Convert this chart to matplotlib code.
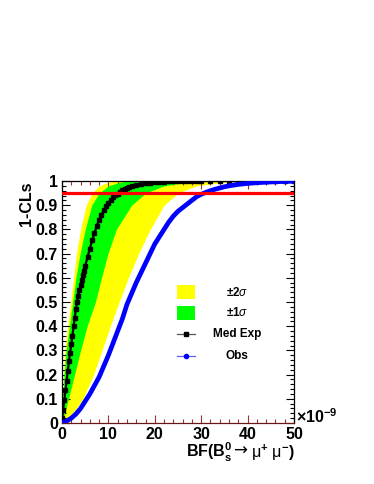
import matplotlib
matplotlib.use("Agg")
import matplotlib.pyplot as plt
from matplotlib.patches import Rectangle
from matplotlib.lines import Line2D
from matplotlib.ticker import MultipleLocator, FixedLocator, FixedFormatter

plt.rcParams['font.family'] = ['Liberation Sans', 'DejaVu Sans']
plt.rcParams['mathtext.fontset'] = 'custom'
plt.rcParams['mathtext.rm'] = 'Liberation Sans:bold'
plt.rcParams['mathtext.bf'] = 'Liberation Sans:bold'
plt.rcParams['mathtext.it'] = 'Liberation Sans:italic'
plt.rcParams['mathtext.sf'] = 'Liberation Sans'

# ---------------- data (BF in units of 1e-9) ----------------
# Median expected 1-CLs
med_x = [0, 0.25, 0.5, 0.75, 1.0, 1.25, 1.5, 1.75, 2.0, 2.25, 2.5, 2.75, 3.0, 3.25,
         3.5, 3.75, 4.0, 4.25, 4.5, 4.75, 5.0, 5.5, 6.0, 6.5, 7.0, 7.5, 8.0, 8.5,
         9.0, 9.5, 10.0, 10.5, 11.0, 11.5, 12.0, 12.5, 13.0, 13.5, 14.0, 14.5, 15.0,
         16, 17, 18, 19, 20, 21, 22, 23, 24, 25, 26, 27, 28, 29, 30, 32, 34, 36, 38,
         40, 42, 44, 46, 48, 50]
med_y = [0.02, 0.055, 0.095, 0.135, 0.175, 0.215, 0.255, 0.29, 0.325, 0.36, 0.40, 0.435, 0.47, 0.50,
         0.525, 0.55, 0.57, 0.59, 0.61, 0.63, 0.65, 0.685, 0.72, 0.755, 0.785, 0.815, 0.84, 0.86,
         0.88, 0.895, 0.91, 0.922, 0.932, 0.941, 0.948, 0.955, 0.961, 0.966, 0.971, 0.975, 0.979,
         0.984, 0.988, 0.991, 0.993, 0.995, 0.996, 0.997, 0.998, 0.998, 0.999, 0.999, 0.999, 1.0, 1.0, 1.0, 1.0, 1.0, 1.0, 1.0,
         1.0, 1.0, 1.0, 1.0, 1.0, 1.0]

# Observed 1-CLs
obs_x = [0, 1, 2, 3, 4, 5, 6, 7, 8, 9, 10, 11, 12, 13, 14, 15, 16, 17, 18, 19, 20,
         21, 22, 23, 24, 25, 26, 27, 28, 29, 30, 31, 32, 33, 34, 35, 36, 37, 38, 39, 40,
         42, 44, 46, 48, 50]
obs_y = [0.0, 0.008, 0.02, 0.037, 0.06, 0.09, 0.12, 0.155, 0.19, 0.235, 0.28, 0.33, 0.38,
         0.43, 0.49, 0.535, 0.58, 0.62, 0.66, 0.70, 0.74, 0.77, 0.80, 0.83, 0.855, 0.875,
         0.89, 0.905, 0.92, 0.935, 0.945, 0.953, 0.96, 0.966, 0.971, 0.976, 0.98, 0.983,
         0.986, 0.988, 0.99, 0.993, 0.995, 0.997, 0.998, 0.999]

# Bands: BF value at given 1-CLs levels
band_lvl = [0.0, 0.05, 0.1, 0.2, 0.3, 0.4, 0.5, 0.6, 0.7, 0.8, 0.9, 0.95, 0.98, 0.995, 1.0]
sig2_lo = [0.0, 0.02, 0.05, 0.3, 0.6, 1.2, 1.9, 2.5, 3.1, 4.0, 5.2, 6.5, 8.0, 10.0, 11.5]
sig1_lo = [0.0, 0.07, 0.15, 0.45, 0.9, 1.6, 2.3, 3.0, 3.9, 5.0, 6.4, 8.0, 10.0, 12.5, 14.0]
sig1_hi = [0.0, 0.7, 1.4, 2.7, 4.0, 5.4, 7.2, 8.5, 9.9, 11.7, 15.0, 18.0, 22.0, 27.0, 32.0]
sig2_hi = [0.0, 2.7, 4.5, 6.8, 8.6, 10.4, 12.3, 14.3, 16.5, 19.0, 22.0, 25.0, 29.0, 35.0, 40.0]

cl_level = 0.95
x_ticks = [0, 10, 20, 30, 40, 50]
y_ticks = [0, 0.1, 0.2, 0.3, 0.4, 0.5, 0.6, 0.7, 0.8, 0.9, 1.0]
y_ticklabels = ['0', '0.1', '0.2', '0.3', '0.4', '0.5', '0.6', '0.7', '0.8', '0.9', '1']
legend_labels = [r'$\pm$$\mathbf{2}$$\sigma$', r'$\pm$$\mathbf{1}$$\sigma$', 'Med Exp', 'Obs']

# ---------------- figure ----------------
W, H = 374, 484
fig = plt.figure(figsize=(W / 100, H / 100), dpi=100)
fig.patch.set_facecolor('white')
L, R, T, B = 62, 294, 181, 423
ax = fig.add_axes([L / W, 1 - B / H, (R - L) / W, (B - T) / H])

ax.fill_betweenx(band_lvl, sig2_lo, sig2_hi, color='#ffff00', lw=0, zorder=1)
ax.fill_betweenx(band_lvl, sig1_lo, sig1_hi, color='#00ff00', lw=0, zorder=2)
ax.plot(med_x, med_y, color='black', lw=1.6, marker='s', ms=3.2, zorder=3)
ax.plot(obs_x, obs_y, color='#0000ff', lw=3.4, solid_capstyle='round', zorder=4)
ax.axhline(cl_level, color='#ff0000', lw=2.3, zorder=5)

ax.set_xlim(0, 50)
ax.set_ylim(0, 1)
ax.xaxis.set_major_locator(FixedLocator(x_ticks))
ax.xaxis.set_minor_locator(MultipleLocator(2))
ax.yaxis.set_major_locator(FixedLocator(y_ticks))
ax.yaxis.set_major_formatter(FixedFormatter(y_ticklabels))
ax.yaxis.set_minor_locator(MultipleLocator(0.02))
ax.tick_params(which='both', direction='in', top=True, right=True, width=0.8)
ax.tick_params(which='major', length=6)
ax.tick_params(which='minor', length=3)
ax.tick_params(axis='x', which='major', pad=3, labelsize=11.5)
ax.tick_params(axis='y', which='major', pad=3, labelsize=11.5)
for lab in ax.get_xticklabels() + ax.get_yticklabels():
    lab.set_fontweight('bold')
for s in ax.spines.values():
    s.set_linewidth(0.9)
ax.spines['bottom'].set_color('#6a1818')
ax.tick_params(axis='x', which='both', bottom=True, color='#9a3030')

# labels
fig.text(27 / W, 1 - 182 / H, '1-CLs', rotation=90, ha='center', va='top',
         fontsize=11.5, fontweight='bold')
yb = 1 - 458 / H
fig.text(232 / W, yb, r'BF(B$_{\mathrm{s}}^{\mathrm{0}}$', ha='right', va='baseline',
         fontsize=11.5, fontweight='bold')
fig.text(233 / W, 1 - 456 / H, '→', ha='left', va='baseline', fontsize=12,
         family='DejaVu Sans')
fig.text(295 / W, yb, r'$\mathsf{μ}^{+}$ $\mathsf{μ}^{-}$)', ha='right', va='baseline',
         fontsize=11.5, fontweight='bold')
fig.text(296 / W, 1 - 423 / H, r'×10$^{\mathrm{-9}}$', ha='left', va='baseline',
         fontsize=11.5, fontweight='bold')

# legend (drawn manually in axes coordinates)
def ay(py):
    return (B - py) / (B - T)

def axx(px):
    return (px - L) / (R - L)

ax.add_patch(Rectangle((axx(177), ay(299)), axx(195) - axx(177), ay(285) - ay(299),
                       transform=ax.transAxes, color='#ffff00', lw=0, zorder=6))
ax.add_patch(Rectangle((axx(177), ay(320)), axx(195) - axx(177), ay(306) - ay(320),
                       transform=ax.transAxes, color='#00ff00', lw=0, zorder=6))
ax.add_line(Line2D([axx(177), axx(195)], [ay(334), ay(334)], transform=ax.transAxes,
                   color='#555555', lw=0.9, zorder=6))
ax.add_line(Line2D([axx(186)], [ay(334)], transform=ax.transAxes, color='black',
                   marker='s', ms=3.4, lw=0, zorder=7))
ax.add_line(Line2D([axx(177), axx(195)], [ay(356), ay(356)], transform=ax.transAxes,
                   color='#6060ff', lw=0.9, zorder=6))
ax.add_line(Line2D([axx(186)], [ay(356)], transform=ax.transAxes, color='#0000ff',
                   marker='o', ms=3.0, lw=0, zorder=7))
for lab, py in zip(legend_labels, [292, 313, 334, 356]):
    ax.text(axx(237), ay(py), lab, transform=ax.transAxes, ha='center', va='center',
            fontsize=8.5, fontweight='bold', zorder=7)

fig.savefig('out.png', dpi=100, facecolor='white')
